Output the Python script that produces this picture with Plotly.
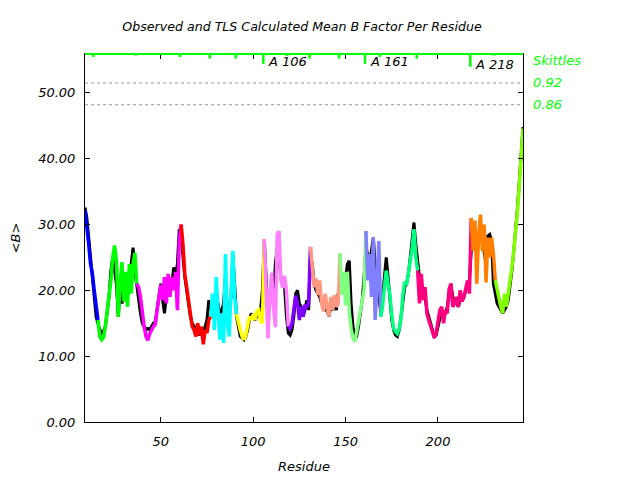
import plotly.graph_objects as go

# ---------------- data ----------------
first_residue = 9
last_residue = 246

group_starts = [9, 16, 37, 61, 77, 91, 106, 119, 131, 147, 161, 169, 189, 218, 231]
group_colors = ["#0000ff", "#00ff00", "#ff00ff", "#ff0000", "#00ffff", "#ffff00", "#ff80ff",
                "#8000ff", "#ff9980", "#80ff80", "#8080ff", "#00ff80", "#ff0080", "#ff8000", "#80ff00"]

# TLS calculated mean B per residue (9..246)
calc_b = (
    [32.2, 30.0, 27.0, 24.0, 22.5, 20.0, 17.5] +
    [15.5, 13.0, 12.5, 12.8, 14.5, 16.8, 18.5, 21.5, 25.0, 26.8, 24.5, 16.0, 21.0, 24.3, 18.3,
     22.8, 17.5, 24.0, 19.5, 24.0, 25.7] +
    [21.0, 20.5, 19.0, 16.5, 14.5, 13.0, 12.4, 13.4, 14.0, 14.5, 14.8, 16.5, 19.0, 20.8, 18.5,
     22.0, 18.0, 22.5, 19.0, 22.0, 20.0, 22.8, 17.0, 27.6] +
    [30.0, 27.0, 22.5, 20.5, 18.5, 16.5, 14.5, 14.0, 13.0, 15.0, 13.2, 14.5, 11.8, 14.0, 13.5, 15.5] +
    [16.0, 19.5, 14.0, 22.0, 17.0, 12.5, 16.5, 12.0, 25.5, 15.0, 13.0, 21.0, 26.0, 19.0] +
    [16.4, 15.0, 14.0, 13.0, 12.5, 13.2, 14.5, 16.0, 15.5, 16.4, 15.5, 16.8, 17.0, 15.4, 15.0] +
    [27.8, 19.5, 12.7, 19.0, 22.7, 17.5, 14.4, 28.5, 29.0, 21.5, 20.4, 22.2, 20.0] +
    [14.5, 14.2, 15.0, 17.0, 19.2, 18.0, 15.5, 17.5, 16.0, 17.8, 17.5, 18.0] +
    [26.6, 23.5, 20.5, 21.8, 19.3, 21.5, 18.0, 16.8, 19.5, 17.5, 16.0, 19.0, 17.0, 19.3, 17.5, 18.0] +
    [25.6, 19.3, 22.8, 17.7, 22.8, 16.7, 14.2, 12.7, 12.2, 13.7, 15.7, 17.2, 18.8, 20.0] +
    [29.0, 21.5, 25.5, 19.0, 28.0, 15.5, 21.0, 27.5] +
    [16.0, 17.5, 20.5, 23.0, 21.0, 19.3, 16.2, 14.2, 13.7, 13.4, 14.2, 15.7, 19.3, 21.3, 20.8,
     22.8, 24.8, 26.3, 29.3, 25.0] +
    [23.0, 18.0, 22.5, 18.5, 20.5, 16.5, 15.5, 14.5, 13.8, 12.8, 13.5, 15.0, 17.0, 17.5, 15.0,
     17.0, 16.5, 20.2, 21.0, 17.5, 18.0, 19.0, 17.5, 20.0, 18.3, 19.0, 20.5, 21.5, 19.5] +
    [31.0, 26.0, 30.6, 21.0, 28.5, 31.5, 26.0, 30.0, 21.2, 28.0, 25.0, 28.0, 25.5] +
    [21.5, 20.0, 19.0, 17.5, 16.5, 19.5, 17.5, 19.5, 21.0, 23.5, 26.0, 28.5, 32.0, 36.0, 40.5, 44.6]
)

# Observed mean B per residue (9..246)
obs_b = (
    [32.6, 31.0, 28.0, 24.5, 22.0, 19.0, 16.0] +
    [15.0, 14.0, 13.5, 13.8, 14.5, 16.5, 19.0, 23.0, 25.0, 23.0, 21.0, 16.0, 20.0, 18.0, 19.5,
     21.0, 19.0, 21.0, 24.0, 26.5, 23.0] +
    [20.5, 18.0, 16.5, 15.0, 14.5, 14.0, 14.2, 14.0, 14.5, 15.0, 15.2, 17.0, 19.0, 21.0, 18.5,
     16.5, 19.0, 20.5, 20.0, 21.0, 23.5, 22.0, 24.0, 29.3] +
    [28.5, 25.0, 22.0, 20.0, 18.0, 16.0, 15.0, 14.5, 14.0, 13.5, 13.2, 13.8, 13.5, 14.5, 15.5, 18.5] +
    [17.0, 17.5, 18.0, 19.0, 18.0, 16.0, 17.0, 18.0, 22.0, 17.0, 16.0, 19.0, 25.5, 20.0] +
    [16.0, 14.5, 13.0, 12.8, 12.5, 13.0, 14.0, 15.5, 16.5, 16.0, 15.5, 16.0, 16.5, 17.0, 20.0] +
    [27.8, 22.0, 16.0, 18.0, 21.0, 19.0, 24.0, 26.5, 25.0, 22.0, 21.0, 20.5, 16.0] +
    [13.5, 13.2, 14.0, 16.0, 19.5, 20.0, 18.0, 17.5, 16.0, 17.0, 18.5, 17.0] +
    [25.0, 24.0, 21.0, 20.0, 19.5, 19.0, 18.0, 17.5, 17.0, 17.0, 16.0, 17.5, 17.0, 18.0, 17.0, 19.5] +
    [21.0, 20.0, 21.0, 22.0, 24.0, 24.5, 18.0, 14.5, 13.0, 13.0, 14.5, 16.5, 18.5, 22.0] +
    [26.5, 25.5, 24.0, 26.0, 28.0, 24.0, 20.0, 18.5] +
    [17.0, 19.0, 22.0, 25.0, 22.0, 18.0, 15.5, 14.0, 13.2, 13.0, 14.0, 16.0, 18.5, 20.5, 21.0,
     22.5, 25.0, 28.0, 30.3, 27.0] +
    [24.0, 22.0, 20.0, 19.0, 19.0, 17.0, 16.0, 15.0, 14.0, 13.0, 13.2, 14.5, 16.0, 17.0, 16.0,
     16.5, 17.5, 19.0, 21.0, 19.0, 18.5, 18.0, 17.5, 18.5, 18.5, 19.0, 20.0, 21.0, 21.5] +
    [26.0, 28.0, 29.0, 27.0, 28.0, 29.0, 27.5, 26.0, 24.0, 28.3, 28.5, 27.5, 21.0] +
    [19.5, 18.0, 17.5, 17.0, 16.5, 17.0, 17.5, 18.5, 20.5, 23.0, 26.0, 29.0, 32.5, 36.5, 41.0, 44.8]
)

# Skittles (TLS group boundaries) hanging from the top edge
skittle_pos = [13.5, 36.5, 60.5, 76.5, 90.5, 105.5, 118.5, 130.5, 146.5, 160.5, 168.5, 188.5, 217.5, 230.5]
skittle_len = [0.45, 0.25, 0.45, 0.7, 0.7, 1.5, 0.3, 0.7, 0.7, 1.5, 0.45, 0.7, 1.95, 0.25]
skittle_lab = ["", "", "", "", "", "A 106", "", "", "", "A 161", "", "", "A 218", ""]

y_max = 55.9
ref_lines = [51.5, 48.2]
ref_labels = ["0.92", "0.86"]
skittle_title_y = 54.9
y_ticks = [0, 10, 20, 30, 40, 50]
x_ticks = [50, 100, 150, 200]

# ---------------- figure ----------------
FONT = "DejaVu Sans"
GREEN = "#00ff00"
residues = list(range(first_residue, last_residue + 1))

fig = go.Figure()

# observed (black)
fig.add_trace(go.Scatter(x=residues, y=obs_b, mode="lines",
                         line=dict(color="black", width=3), hoverinfo="skip"))

# calculated, coloured per TLS group
for i, start in enumerate(group_starts):
    end = group_starts[i + 1] if i + 1 < len(group_starts) else last_residue + 1
    i0 = start - first_residue
    i1 = min(end - first_residue + 1, len(residues))
    fig.add_trace(go.Scatter(x=residues[i0:i1], y=calc_b[i0:i1], mode="lines",
                             line=dict(color=group_colors[i], width=3.5), hoverinfo="skip"))

# skittles
sx, sy = [], []
for p, l in zip(skittle_pos, skittle_len):
    sx += [p, p, None]
    sy += [y_max, y_max - l, None]
fig.add_trace(go.Scatter(x=sx, y=sy, mode="lines", line=dict(color=GREEN, width=2.5),
                         hoverinfo="skip", cliponaxis=False))

annotations = []
for p, l, t in zip(skittle_pos, skittle_len, skittle_lab):
    if t:
        annotations.append(dict(x=p, y=y_max - l, xref="x", yref="y", text=t, showarrow=False,
                                xanchor="left", yanchor="middle", xshift=3, yshift=2,
                                font=dict(family=FONT, size=13, color="black", style="italic")))

annotations.append(dict(x=1, y=skittle_title_y, xref="paper", yref="y", text="Skittles",
                        showarrow=False, xanchor="left", yanchor="middle", xshift=8,
                        font=dict(family=FONT, size=13, color=GREEN, style="italic")))
for v, t in zip(ref_lines, ref_labels):
    annotations.append(dict(x=1, y=v, xref="paper", yref="y", text=t, showarrow=False,
                            xanchor="left", yanchor="middle", xshift=8,
                            font=dict(family=FONT, size=13, color=GREEN, style="italic")))

shapes = []
for v in ref_lines:
    shapes.append(dict(type="line", xref="paper", yref="y", x0=0, x1=1, y0=v, y1=v,
                       line=dict(color="#999999", width=1, dash="dot")))
shapes.append(dict(type="line", xref="paper", yref="paper", x0=0, x1=1, y0=1, y1=1,
                   line=dict(color=GREEN, width=2), layer="above"))

# the page adds an 8px body margin, so positions are offset by 8px here
fig.update_layout(
    width=640, height=480,
    margin=dict(l=77, r=125, t=46, b=66, autoexpand=False),
    plot_bgcolor="white", paper_bgcolor="white",
    showlegend=False,
    title=dict(text="Observed and TLS Calculated Mean B Factor Per Residue",
               x=294 / 640, xanchor="center", y=1 - 19 / 480, yanchor="middle",
               font=dict(family=FONT, size=12.6, color="black", style="italic")),
    annotations=annotations,
    shapes=shapes,
)

fig.update_xaxes(range=[first_residue, last_residue], tickvals=x_ticks, automargin=False,
                 ticks="inside", ticklen=5, tickcolor="black", ticklabelstandoff=7,
                 showline=True, linecolor="black", linewidth=1, mirror="ticks",
                 showgrid=False, zeroline=False,
                 tickfont=dict(family=FONT, size=13, color="black", style="italic"),
                 title=dict(text="Residue", standoff=14,
                            font=dict(family=FONT, size=13, color="black", style="italic")))
fig.update_yaxes(range=[0, y_max], tickvals=y_ticks, tickformat=".2f", automargin=False,
                 ticks="inside", ticklen=5, tickcolor="black", ticklabelstandoff=6,
                 showline=True, linecolor="black", linewidth=1, mirror="ticks",
                 showgrid=False, zeroline=False,
                 tickfont=dict(family=FONT, size=13, color="black", style="italic"),
                 title=dict(text="&lt;B&gt;", standoff=26,
                            font=dict(family=FONT, size=13, color="black", style="italic")))

fig.write_html("out.html")
